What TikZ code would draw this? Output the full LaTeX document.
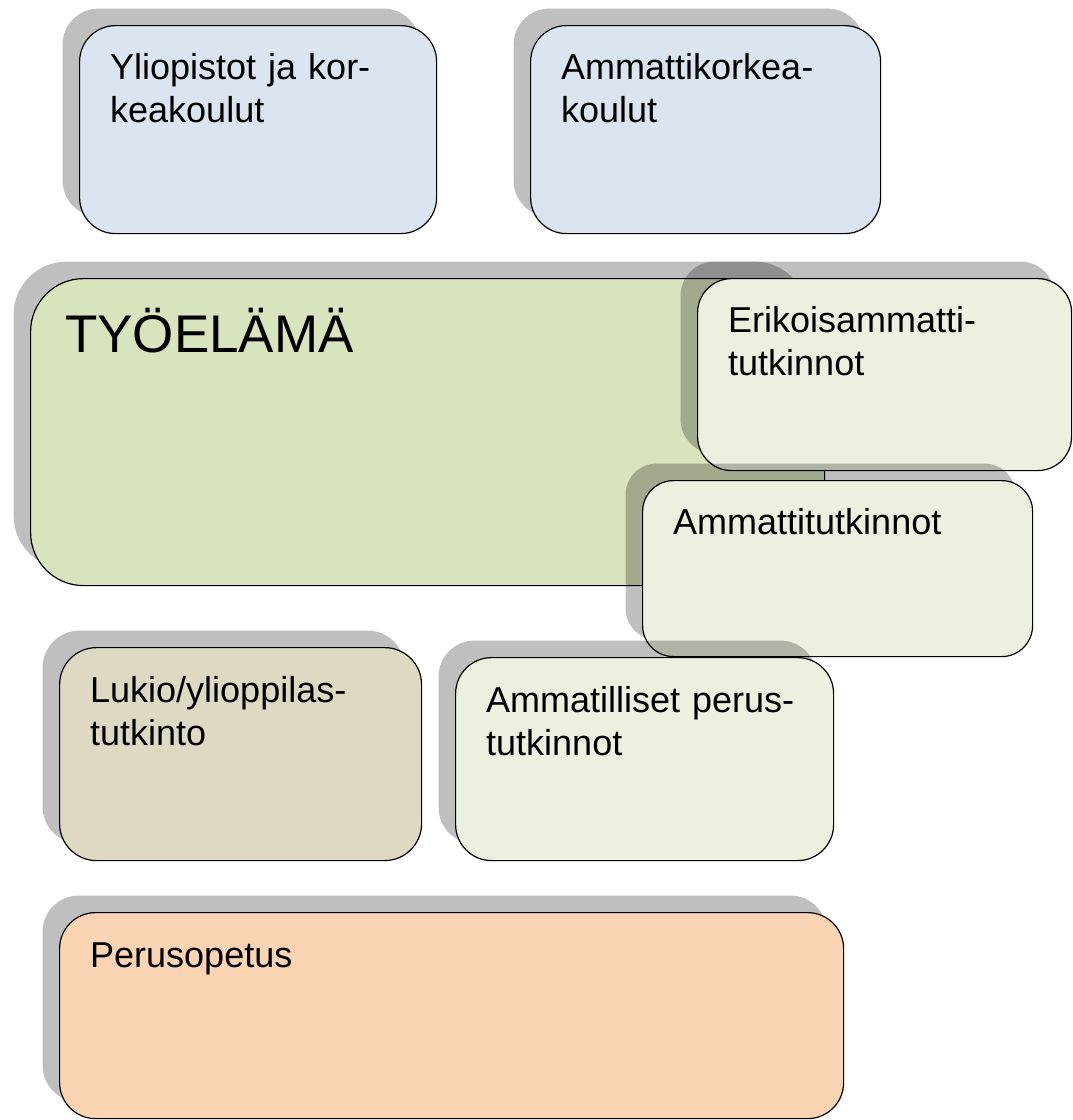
\documentclass[tikz,border=0pt]{standalone}
\usepackage{fontspec}
\setmainfont{Liberation Sans}
\usetikzlibrary{shadows}
\definecolor{uniblue}{HTML}{DBE5F1}
\definecolor{workgreen}{HTML}{D7E4BD}
\definecolor{lightgreen}{HTML}{EBF1DE}
\definecolor{lukiotan}{HTML}{DDD9C3}
\definecolor{peach}{HTML}{FBD4B4}
\tikzset{
  box/.style={draw=black, line width=1.2pt, anchor=north west, inner sep=0pt,
    drop shadow={shadow xshift=-17pt, shadow yshift=17pt, fill=black, opacity=0.25}},
  lbl/.style={anchor=base west, inner sep=0pt, align=left, text width=#1,
    font=\fontsize{36}{43}\selectfont},
  lbl/.default=330pt
}
\begin{document}
\begin{tikzpicture}[x=1pt,y=-1pt]
\useasboundingbox (0,0) rectangle (1072,1120);
% korkea-asteen laatikot
\node[box, fill=uniblue, rounded corners=36pt, minimum width=357pt, minimum height=208pt] (yli) at (79,25) {};
\node[lbl] (yli-t) at ([shift={(31,54)}]yli.north west) {Yliopistot ja kor-\\keakoulut};
\node[box, fill=uniblue, rounded corners=36pt, minimum width=350pt, minimum height=208pt] (amk) at (530,25) {};
\node[lbl] (amk-t) at ([shift={(31,54)}]amk.north west) {Ammattikorkea-\\koulut};
% tyoelama ja nayttotutkinnot
\node[box, fill=workgreen, rounded corners=53pt, minimum width=794pt, minimum height=307pt] (tyo) at (30,278) {};
\node[lbl=500pt, font=\fontsize{53}{64}\selectfont] (tyo-t) at ([shift={(35,74)}]tyo.north west) {TYÖELÄMÄ};
\node[box, fill=lightgreen, rounded corners=34pt, minimum width=374pt, minimum height=192pt] (eri) at (697,278) {};
\node[lbl] (eri-t) at ([shift={(31,54)}]eri.north west) {Erikoisammatti-\\tutkinnot};
\node[box, fill=lightgreen, rounded corners=31pt, minimum width=390pt, minimum height=176pt] (amt) at (642,480) {};
\node[lbl] (amt-t) at ([shift={(31,54)}]amt.north west) {Ammattitutkinnot};
% toinen aste
\node[box, fill=lukiotan, rounded corners=37pt, minimum width=362pt, minimum height=213pt] (luk) at (59,647) {};
\node[lbl] (luk-t) at ([shift={(31,55)}]luk.north west) {Lukio/ylioppilas-\\tutkinto};
\node[box, fill=lightgreen, rounded corners=36pt, minimum width=378pt, minimum height=203pt] (amp) at (455,657) {};
\node[lbl] (amp-t) at ([shift={(31,55)}]amp.north west) {Ammatilliset perus-\\tutkinnot};
% perusopetus
\node[box, fill=peach, rounded corners=36pt, minimum width=784pt, minimum height=206pt] (per) at (59,912) {};
\node[lbl] (per-t) at ([shift={(31,55)}]per.north west) {Perusopetus};
\end{tikzpicture}
\end{document}
